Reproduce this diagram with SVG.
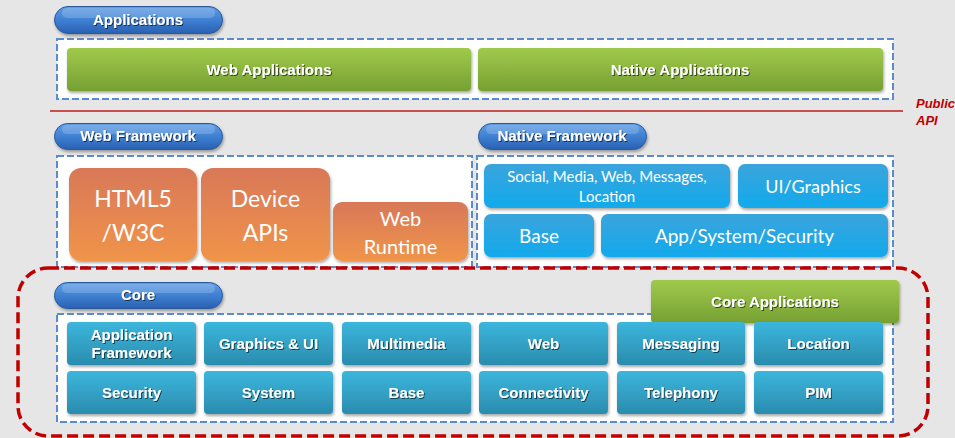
<svg xmlns="http://www.w3.org/2000/svg" width="955" height="438" viewBox="0 0 955 438">
  <defs>
    <linearGradient id="gPill" x1="0" y1="0" x2="0" y2="1">
      <stop offset="0" stop-color="#5f9de6"/>
      <stop offset="0.5" stop-color="#3f80d2"/>
      <stop offset="1" stop-color="#2a60b2"/>
    </linearGradient>
    <linearGradient id="gGreen" x1="0" y1="0" x2="0" y2="1">
      <stop offset="0" stop-color="#a0ca4c"/>
      <stop offset="1" stop-color="#76a032"/>
    </linearGradient>
    <linearGradient id="gTeal" x1="0" y1="0" x2="0" y2="1">
      <stop offset="0" stop-color="#3cb6dc"/>
      <stop offset="1" stop-color="#2a8cae"/>
    </linearGradient>
    <linearGradient id="gOrange" x1="0" y1="0" x2="0" y2="1">
      <stop offset="0" stop-color="#d87858"/>
      <stop offset="1" stop-color="#f0944a"/>
    </linearGradient>
    <linearGradient id="gSky" x1="0" y1="0" x2="0" y2="1">
      <stop offset="0" stop-color="#3ba4dc"/>
      <stop offset="1" stop-color="#12aaec"/>
    </linearGradient>
    <filter id="boxShadow" x="-10%" y="-20%" width="120%" height="150%">
      <feDropShadow dx="1" dy="2" stdDeviation="1.5" flood-color="#000" flood-opacity="0.35"/>
    </filter>
    <filter id="txtShadow" x="-10%" y="-30%" width="120%" height="160%">
      <feDropShadow dx="1" dy="1" stdDeviation="0.7" flood-color="#000" flood-opacity="0.6"/>
    </filter>
    <style>
      .pill { fill: url(#gPill); stroke: #2b5a9c; stroke-width: 1; filter: url(#boxShadow); }
      .pill-hi { fill: #ffffff; opacity: 0.18; }
      .frame { fill: #ffffff; stroke: #5b8bcf; stroke-width: 2; stroke-dasharray: 7 3; }
      .green { fill: url(#gGreen); filter: url(#boxShadow); }
      .teal { fill: url(#gTeal); filter: url(#boxShadow); }
      .orange { fill: url(#gOrange); filter: url(#boxShadow); }
      .sky { fill: url(#gSky); filter: url(#boxShadow); }
      .bold { font-family: "Liberation Sans", Arial, sans-serif; font-weight: bold; font-size: 15px; fill: #ffffff; text-anchor: middle; filter: url(#txtShadow); }
      .soft { font-family: Lato, "Open Sans", sans-serif; fill: #ffffff; text-anchor: middle; }
      .api { font-family: "Liberation Sans", Arial, sans-serif; font-weight: bold; font-style: italic; font-size: 13px; fill: #c00000; }
    </style>
  </defs>

  <!-- page background -->
  <rect x="0" y="0" width="955" height="438" fill="#e6e6e6"/>

  <!-- Applications layer -->
  <g id="applications-frame">
    <rect class="frame" x="57" y="39" width="836" height="60"/>
  </g>
  <g id="applications-label">
    <rect class="pill" x="54.5" y="6.5" width="168" height="27" rx="13.5"/>
    <rect class="pill-hi" x="62" y="8" width="153" height="10" rx="5"/>
    <text class="bold" x="138" y="25">Applications</text>
  </g>
  <g id="web-applications">
    <rect class="green" x="67" y="48" width="404" height="43" rx="4"/>
    <text class="bold" x="269" y="75">Web Applications</text>
  </g>
  <g id="native-applications">
    <rect class="green" x="478" y="48" width="405" height="43" rx="4"/>
    <text class="bold" x="680" y="75">Native Applications</text>
  </g>

  <!-- Public API boundary -->
  <g id="connectors">
    <line x1="50" y1="111" x2="903" y2="111" stroke="#c8504e" stroke-width="2.2"/>
  </g>
  <g id="public-api">
    <text class="api" x="916" y="108">Public</text>
    <text class="api" x="916" y="125">API</text>
  </g>

  <!-- Web Framework layer -->
  <g id="web-framework-frame">
    <rect class="frame" x="57" y="156" width="415" height="111"/>
  </g>
  <g id="web-framework-label">
    <rect class="pill" x="54.5" y="123.5" width="168" height="26" rx="13"/>
    <rect class="pill-hi" x="62" y="125" width="153" height="9" rx="4.5"/>
    <text class="bold" x="138" y="141">Web Framework</text>
  </g>
  <g id="html5-w3c">
    <rect class="orange" x="69" y="168" width="128" height="93" rx="12"/>
    <text class="soft" x="133" y="207" font-size="23">HTML5</text>
    <text class="soft" x="133" y="241" font-size="23">/W3C</text>
  </g>
  <g id="device-apis">
    <rect class="orange" x="201" y="168" width="129" height="93" rx="12"/>
    <text class="soft" x="265.5" y="207" font-size="23">Device</text>
    <text class="soft" x="265.5" y="241" font-size="23">APIs</text>
  </g>
  <g id="web-runtime">
    <rect class="orange" x="333" y="202" width="135" height="59" rx="9"/>
    <text class="soft" x="400.5" y="226" font-size="20">Web</text>
    <text class="soft" x="400.5" y="254" font-size="20">Runtime</text>
  </g>

  <!-- Native Framework layer -->
  <g id="native-framework-frame">
    <rect class="frame" x="477" y="156" width="416" height="111"/>
  </g>
  <g id="native-framework-label">
    <rect class="pill" x="478.5" y="123.5" width="168" height="26" rx="13"/>
    <rect class="pill-hi" x="486" y="125" width="153" height="9" rx="4.5"/>
    <text class="bold" x="562" y="141">Native Framework</text>
  </g>
  <g id="social-media">
    <rect class="sky" x="484" y="164" width="246" height="44" rx="7"/>
    <text class="soft" x="607" y="182" font-size="15">Social, Media, Web, Messages,</text>
    <text class="soft" x="607" y="202" font-size="15">Location</text>
  </g>
  <g id="ui-graphics">
    <rect class="sky" x="738" y="164" width="150" height="44" rx="7"/>
    <text class="soft" x="813" y="193" font-size="18">UI/Graphics</text>
  </g>
  <g id="native-base">
    <rect class="sky" x="484" y="214" width="110" height="43" rx="7"/>
    <text class="soft" x="539" y="243" font-size="19">Base</text>
  </g>
  <g id="app-system-security">
    <rect class="sky" x="601" y="214" width="287" height="43" rx="7"/>
    <text class="soft" x="744.5" y="243" font-size="19">App/System/Security</text>
  </g>

  <!-- Core layer -->
  <g id="core-boundary">
    <rect x="18" y="268" width="910" height="168" rx="30" fill="none" stroke="#c00000" stroke-width="3.5" stroke-dasharray="11 5"/>
  </g>
  <g id="core-frame">
    <rect class="frame" x="57" y="314" width="836" height="108"/>
  </g>
  <g id="core-label">
    <rect class="pill" x="54.5" y="282.5" width="168" height="26" rx="13"/>
    <rect class="pill-hi" x="62" y="284" width="153" height="9" rx="4.5"/>
    <text class="bold" x="138" y="300">Core</text>
  </g>
  <g id="core-applications">
    <rect class="green" x="651" y="280" width="248" height="43" rx="4"/>
    <text class="bold" x="775" y="307">Core Applications</text>
  </g>

  <g id="application-framework">
    <rect class="teal" x="67" y="322" width="129" height="43" rx="4"/>
    <text class="bold" x="131.5" y="340">Application</text>
    <text class="bold" x="131.5" y="358">Framework</text>
  </g>
  <g id="graphics-ui">
    <rect class="teal" x="204" y="322" width="129" height="43" rx="4"/>
    <text class="bold" x="268.5" y="349">Graphics &amp; UI</text>
  </g>
  <g id="multimedia">
    <rect class="teal" x="342" y="322" width="129" height="43" rx="4"/>
    <text class="bold" x="406.5" y="349">Multimedia</text>
  </g>
  <g id="web">
    <rect class="teal" x="479" y="322" width="129" height="43" rx="4"/>
    <text class="bold" x="543.5" y="349">Web</text>
  </g>
  <g id="messaging">
    <rect class="teal" x="617" y="322" width="128" height="43" rx="4"/>
    <text class="bold" x="681" y="349">Messaging</text>
  </g>
  <g id="location">
    <rect class="teal" x="754" y="322" width="129" height="43" rx="4"/>
    <text class="bold" x="818.5" y="349">Location</text>
  </g>

  <g id="security">
    <rect class="teal" x="67" y="371" width="129" height="43" rx="4"/>
    <text class="bold" x="131.5" y="398">Security</text>
  </g>
  <g id="system">
    <rect class="teal" x="204" y="371" width="129" height="43" rx="4"/>
    <text class="bold" x="268.5" y="398">System</text>
  </g>
  <g id="core-base">
    <rect class="teal" x="342" y="371" width="129" height="43" rx="4"/>
    <text class="bold" x="406.5" y="398">Base</text>
  </g>
  <g id="connectivity">
    <rect class="teal" x="479" y="371" width="129" height="43" rx="4"/>
    <text class="bold" x="543.5" y="398">Connectivity</text>
  </g>
  <g id="telephony">
    <rect class="teal" x="617" y="371" width="128" height="43" rx="4"/>
    <text class="bold" x="681" y="398">Telephony</text>
  </g>
  <g id="pim">
    <rect class="teal" x="754" y="371" width="129" height="43" rx="4"/>
    <text class="bold" x="818.5" y="398">PIM</text>
  </g>
</svg>
